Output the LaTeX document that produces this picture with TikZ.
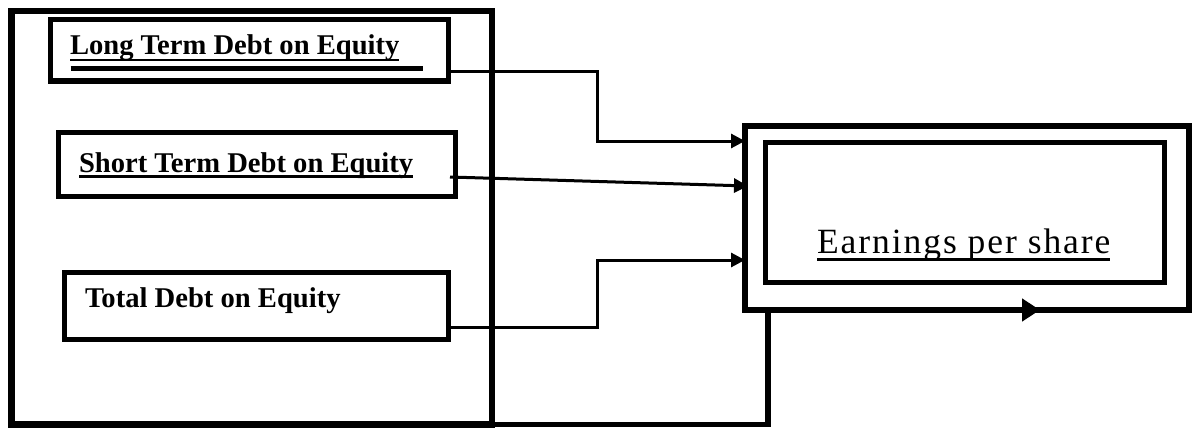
\documentclass[tikz,border=0pt]{standalone}
\usepackage{fontspec}
\setmainfont{Liberation Serif}
\usetikzlibrary{arrows.meta}
\tikzset{
  box/.style={draw, rectangle, line width=5pt, inner sep=0pt, outer sep=0pt},
  lbl/.style={inner sep=0pt, outer sep=0pt, anchor=base west, font=\fontsize{28.6}{32}\selectfont\bfseries},
  eps/.style={inner sep=0pt, outer sep=0pt, anchor=base west, font=\fontsize{35.5}{40}\selectfont\addfontfeature{LetterSpace=5.5}},
  conn/.style={line width=3pt, -{Triangle[length=14pt,width=14pt]}},
  uline/.style={line width=2.5pt},
  fback/.style={line width=5.5pt, -{Triangle[length=18pt,width=22pt]}}
}
\begin{document}
\begin{tikzpicture}[x=1pt,y=-1pt]
\useasboundingbox (0,0) rectangle (1194,428);
% big left frame
\node[box, line width=6.5pt, minimum width=480.5pt, minimum height=413.5pt] (big) at (251.75,217.75) {};
% input boxes
\node[box, minimum width=398pt, minimum height=61pt] (lt) at (249,50.5) {};
\node[box, minimum width=397pt, minimum height=64pt] (st) at (256.5,164) {};
\node[box, minimum width=384pt, minimum height=67pt] (tt) at (256,305.5) {};
% EPS boxes
\node[box, line width=6pt, minimum width=444pt, minimum height=184.5pt] (eo) at (967,217.75) {};
\node[box, minimum width=399pt, minimum height=140pt] (ei) at (964.5,212) {};
% texts
\node[lbl] (ltt) at (70,55) {Long Term Debt on Equity};
\node[lbl] (stt) at (79,172) {Short Term Debt on Equity};
\node[lbl] (ttt) at (85,307) {Total Debt on Equity};
\node[eps] (ept) at (817,253) {Earnings per share};
% underlines
\draw[uline] ([yshift=-5pt]ltt.base west) -- ([yshift=-5pt]ltt.base east);
\draw[line width=4.5pt] ([xshift=0.7pt,yshift=-13.5pt]ltt.base west) -- ([xshift=24pt,yshift=-13.5pt]ltt.base east);
\draw[uline] ([yshift=-4.5pt]stt.base west) -- ([yshift=-4.5pt]stt.base east);
\draw[uline] ([yshift=-6.5pt]ept.base west) -- ([yshift=-6.5pt]ept.base east);
% connectors
\draw[conn] ([yshift=-21.5pt]lt.east) -- ++(149,0) |- ([yshift=76.75pt]eo.west);
\draw[conn] ([xshift=-5pt,yshift=-13pt]st.east) -- ([xshift=3pt,yshift=31.75pt]eo.west);
\draw[conn] ([yshift=-21.5pt]tt.east) -- ++(149,0) |- ([yshift=-42.25pt]eo.west);
% feedback loop
\draw[fback] (big.south east) -- ++(276,0) -- ++(0,-114.5) -- ([xshift=73pt]eo.south);
\end{tikzpicture}
\end{document}
